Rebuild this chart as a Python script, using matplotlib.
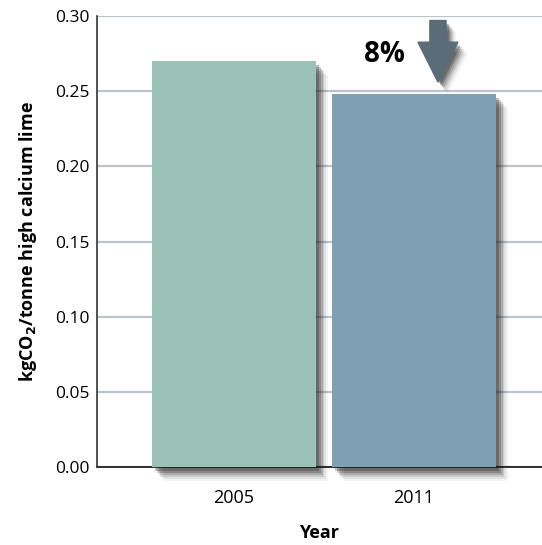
import matplotlib
matplotlib.use("Agg")
import matplotlib.pyplot as plt
import matplotlib.patheffects as pe
from matplotlib.patches import FancyArrow

plt.rcParams['font.family'] = ['Open Sans', 'DejaVu Sans']

years = ['2005', '2011']
values = [0.27, 0.248]
colors = ['#9cc1b7', '#7f9fb4']
yticks = [0.00, 0.05, 0.10, 0.15, 0.20, 0.25, 0.30]
reduction_label = '8%'

fig = plt.figure(figsize=(5.42, 5.45), dpi=100)
ax = fig.add_axes([0.179, 0.1431, 0.821, 0.8275])


def blur_shadow(dx, dy, color='#1a1a1a'):
    effs = []
    for k, a in [(0.8, 0.28), (1.2, 0.22), (1.6, 0.17), (2.0, 0.12), (2.4, 0.08), (2.8, 0.05)]:
        effs.append(pe.SimplePatchShadow(offset=(dx * k, dy * k), shadow_rgbFace=color, alpha=a))
    effs.append(pe.Normal())
    return effs


x = list(range(len(years)))
bars = ax.bar(x, values, width=0.91, color=colors, zorder=3, clip_on=False)
for b in bars:
    b.set_path_effects(blur_shadow(3, -3.5))

ax.set_xlim(-0.761, 1.711)
ax.set_ylim(0, 0.30)
ax.set_yticks(yticks)
ax.set_yticklabels([f'{t:.2f}' for t in yticks], fontsize=12.5)
ax.set_xticks(x)
ax.set_xticklabels(years, fontsize=13)
ax.tick_params(axis='y', length=0, pad=5)
ax.tick_params(axis='x', length=0, pad=16)

ax.grid(axis='y', color='#bcc4ca', linewidth=1.6, zorder=0)
ax.set_axisbelow(True)
for s in ['top', 'right']:
    ax.spines[s].set_visible(False)
ax.spines['left'].set_color('#333333')
ax.spines['left'].set_linewidth(1.2)
ax.spines['bottom'].set_color('#111111')
ax.spines['bottom'].set_linewidth(1.2)
ax.spines['bottom'].set_zorder(2)

ax.set_ylabel(r'kgCO$_\mathbf{2}$/tonne high calcium lime', fontsize=13, fontweight='bold', labelpad=12)
ax.set_xlabel('Year', fontsize=13, fontweight='bold', labelpad=12)

# reduction arrow annotation
arr = FancyArrow(1.133, 0.297, 0, -0.041, width=0.09, head_width=0.222, head_length=0.0266,
                 length_includes_head=True, color='#5b6c79', zorder=5, clip_on=False)
arr.set_path_effects(blur_shadow(2.5, -3))
ax.add_patch(arr)
ax.text(0.834, 0.2745, reduction_label, fontsize=20, fontweight='bold', ha='center', va='center', zorder=6)

fig.savefig('out.png', dpi=100)
